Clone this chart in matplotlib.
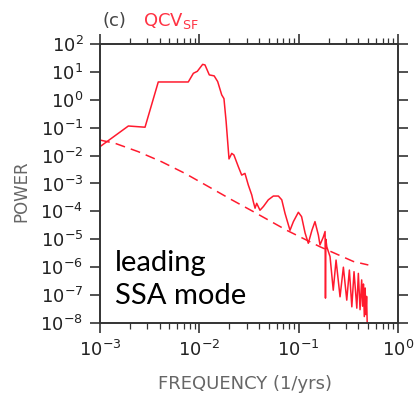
import numpy as np
import matplotlib
matplotlib.use("Agg")
import matplotlib.pyplot as plt
from matplotlib.ticker import LogLocator, NullFormatter, NullLocator

# spectrum of the leading SSA mode (frequency in 1/yrs, power)
freq = [1.00e-3, 1.93e-3, 2.84e-3, 3.86e-3, 7.74e-3, 8.71e-3, 9.55e-3,
        1.08e-2, 1.14e-2, 1.26e-2, 1.41e-2, 1.53e-2, 1.68e-2, 1.77e-2,
        1.86e-2, 1.99e-2, 2.12e-2, 2.23e-2, 2.47e-2, 2.67e-2, 2.88e-2,
        3.11e-2, 3.37e-2, 3.50e-2, 3.64e-2, 3.78e-2, 4.08e-2, 4.42e-2,
        4.95e-2, 5.56e-2, 6.25e-2, 6.76e-2, 7.29e-2, 8.18e-2, 8.85e-2,
        9.93e-2, 0.107, 0.116, 0.125, 0.136, 0.146, 0.158, 0.164, 0.177,
        0.1845, 0.1862, 0.188, 0.192, 0.207, 0.223, 0.238, 0.261, 0.282,
        0.305, 0.324, 0.343, 0.361, 0.385, 0.399, 0.415, 0.431, 0.440,
        0.449, 0.458, 0.467, 0.475, 0.483, 0.492]
power = [2.09e-2, 1.15e-1, 1.04e-1, 4.35e0, 4.35e0, 8.9e0, 1.05e1,
         1.86e1, 1.78e1, 7.8e0, 7.2e0, 4.5e0, 1.5e0, 1.1e0,
         1.7e-1, 7.6e-3, 1.2e-2, 1.05e-2, 4.0e-3, 2.0e-3, 2.3e-3,
         8.9e-4, 3.9e-4, 2.2e-4, 1.3e-4, 1.95e-4, 1.1e-4, 1.5e-4,
         2.6e-4, 3.55e-4, 3.55e-4, 2.6e-4, 8.5e-5, 2.1e-5, 4.3e-5,
         9.3e-5, 6.5e-5, 1.7e-5, 7.2e-6, 2.1e-5, 4.3e-5, 1.4e-5, 6.3e-6, 1.2e-5,
         1.9e-5, 7.8e-8, 1.0e-5, 5.4e-6, 2.4e-6, 1.5e-7, 1.8e-6, 8.7e-8, 1.0e-6,
         6.6e-8, 7.9e-7, 3.8e-8, 6.9e-7, 3.4e-8, 6.0e-7, 3.0e-8, 3.5e-7, 4.0e-8,
         2.5e-7, 1.7e-8, 1.8e-7, 2.0e-8, 9.0e-8, 5.0e-9]

# red-noise reference spectrum
red_freq = [1.00e-3, 1.42e-3, 2.43e-3, 4.18e-3, 7.18e-3, 1.23e-2, 2.12e-2,
            3.50e-2, 7.59e-2, 0.164, 0.356, 0.503]
red_power = [3.6e-2, 2.75e-2, 1.38e-2, 6.0e-3, 2.3e-3, 7.8e-4, 2.6e-4,
             9.8e-5, 2.1e-5, 5.4e-6, 1.6e-6, 1.2e-6]

fig = plt.figure(figsize=(4.17, 3.97), dpi=100)
ax = fig.add_axes([0.2398, 0.1864, 0.7146, 0.7028])

ax.loglog(freq, power, color="#ff1a2e", lw=1.1)
ax.loglog(red_freq, red_power, color="#ff1a2e", lw=1.1, dashes=(6.5, 4))

ax.set_xlim(1e-3, 1e0)
ax.set_ylim(1e-8, 1e2)

ax.xaxis.set_major_locator(LogLocator(base=10, numticks=10))
ax.xaxis.set_minor_locator(LogLocator(base=10, subs=np.arange(2, 10), numticks=20))
ax.xaxis.set_minor_formatter(NullFormatter())
ax.yaxis.set_major_locator(LogLocator(base=10, numticks=20))
ax.yaxis.set_minor_locator(NullLocator())

for s in ax.spines.values():
    s.set_color("#333333")
    s.set_linewidth(1.4)
ax.tick_params(which="both", direction="out", top=True, right=True,
               labeltop=False, labelright=False, color="#333333", width=1.2)
ax.tick_params(which="major", length=7, labelsize=13, labelcolor="#222222", pad=5)
ax.tick_params(which="minor", length=4, width=0.9)

ax.set_xlabel("FREQUENCY (1/yrs)", fontsize=13, color="#666666")
ax.set_ylabel("POWER", fontsize=12, color="#666666")
ax.xaxis.set_label_coords(0.487, -0.185)
ax.yaxis.set_label_coords(-0.235, 0.473)

fig.text(0.245, 0.948, "(c)", fontsize=13, color="#444444", va="center")
fig.text(0.343, 0.948, r"QCV$_{\mathrm{SF}}$", fontsize=13, color="#ff3344", va="center")

ax.text(0.05, 0.26, "leading\nSSA mode", transform=ax.transAxes,
        fontsize=21, family="Lato", color="black", va="top", linespacing=1.3)

fig.savefig("out.png", dpi=100)
